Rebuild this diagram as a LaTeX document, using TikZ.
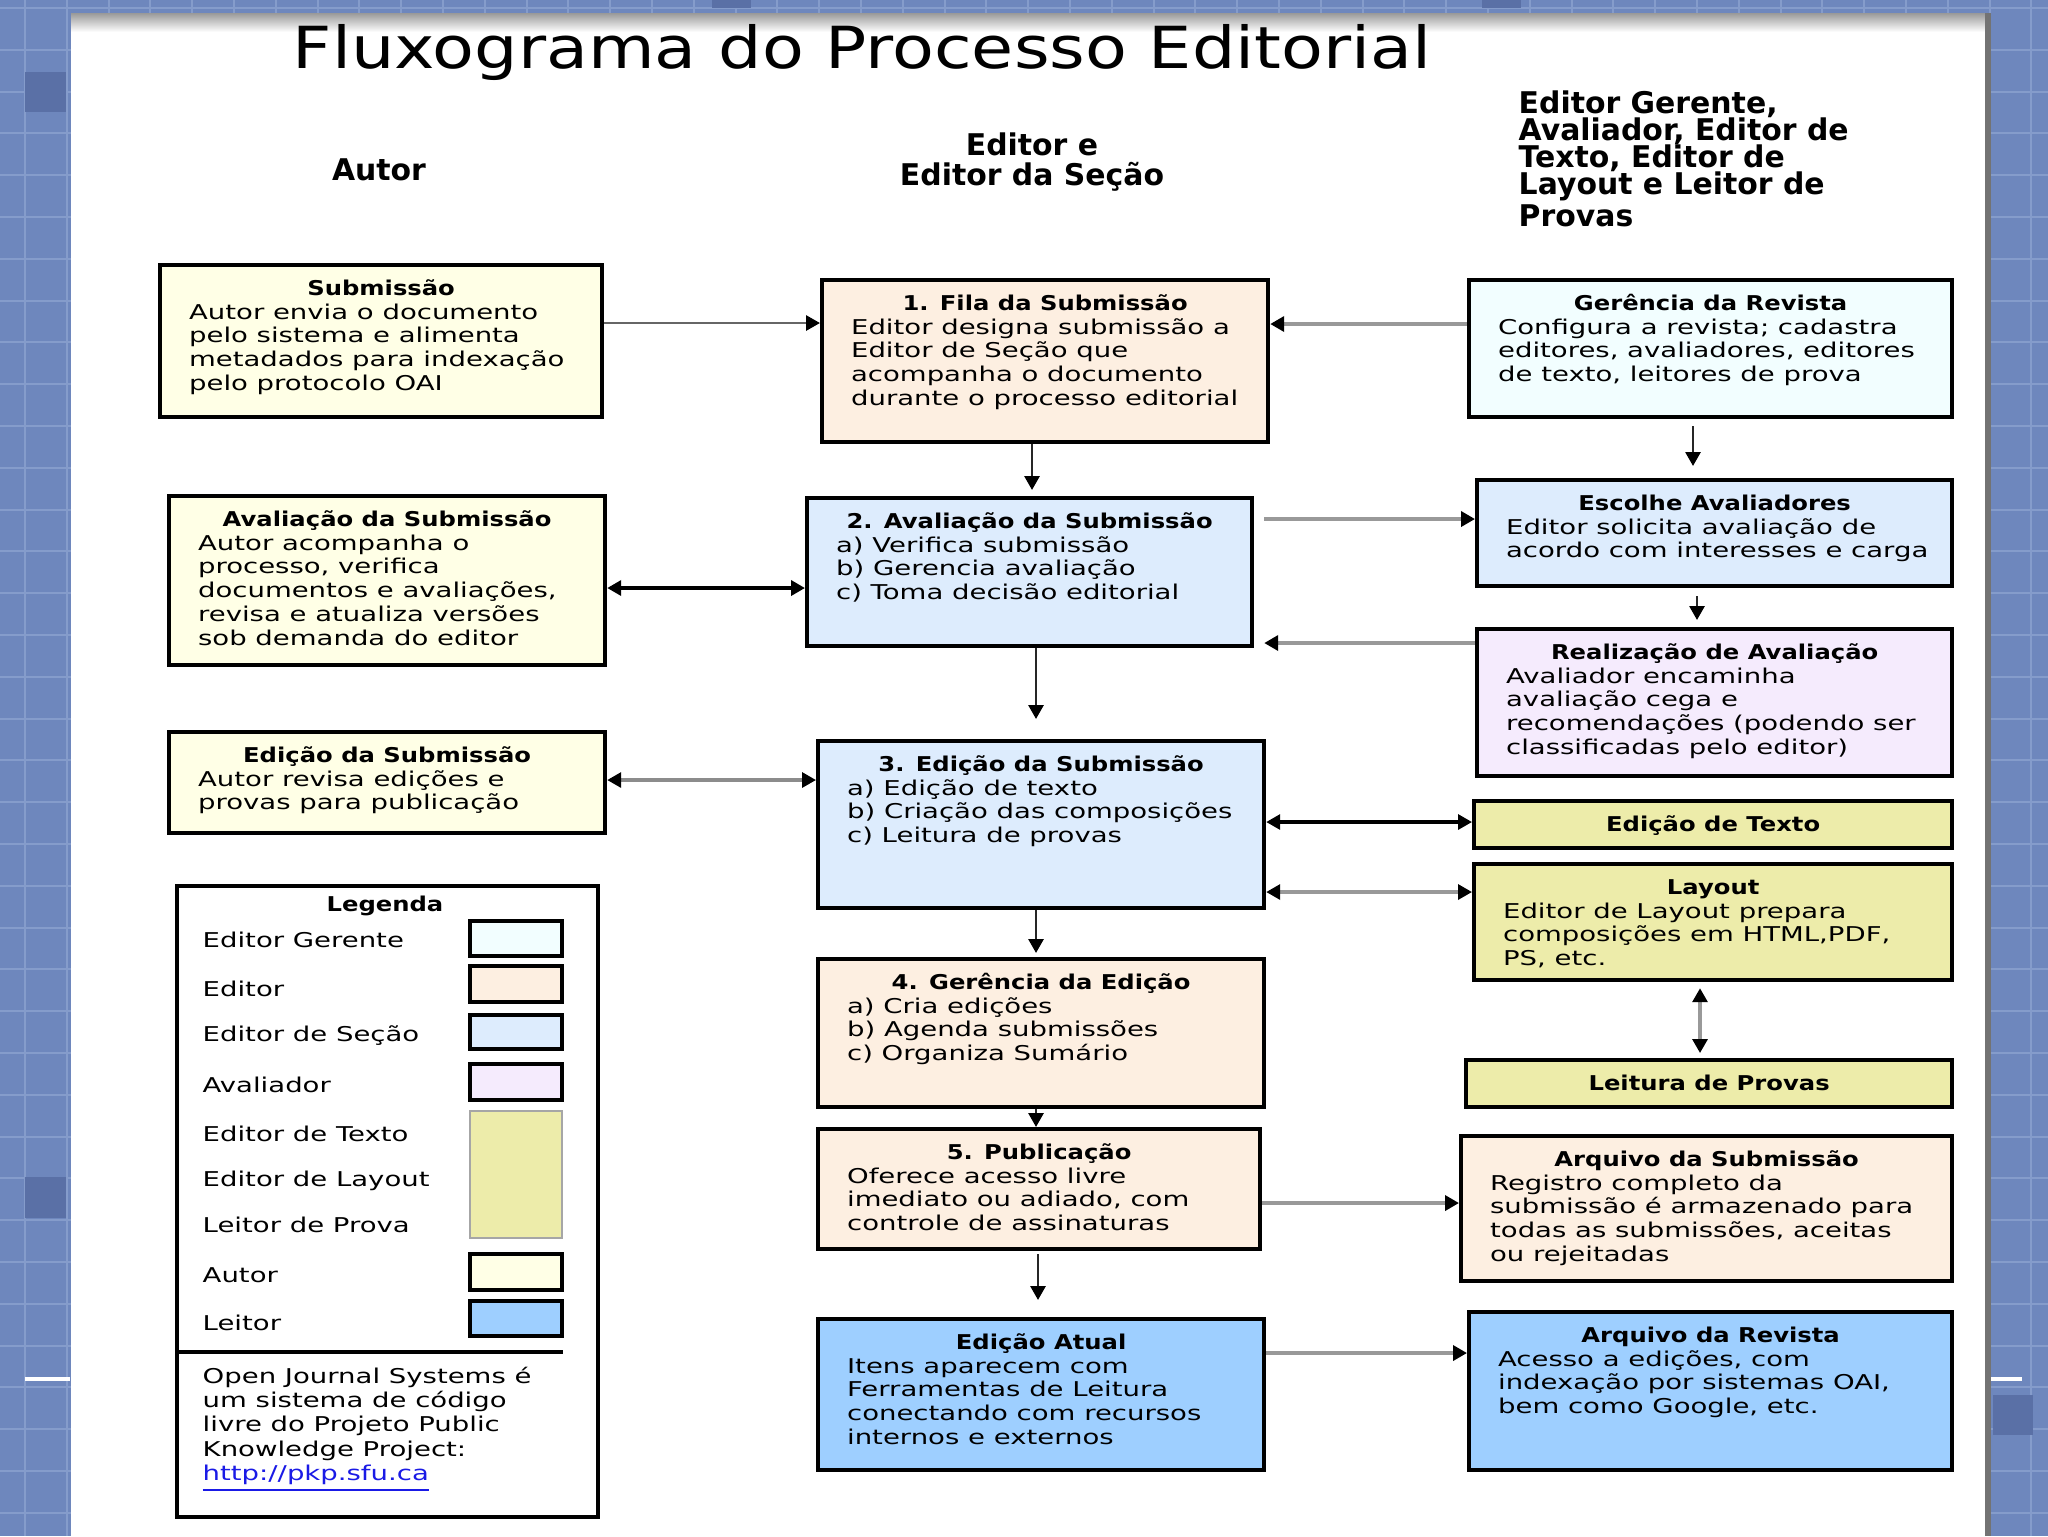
\documentclass[tikz,border=0pt]{standalone}
\usepackage{fontspec}
\usepackage{tikz}
\usetikzlibrary{arrows.meta}
\newfontfamily\bxfam[FakeStretch=1.35]{DejaVu Sans}
\newfontfamily\hdfam[FakeStretch=1.19]{DejaVu Sans}
\newfontfamily\hdrfam{DejaVu Sans}
\newfontfamily\titfam[FakeStretch=1.18]{DejaVu Sans}
\newcommand{\bxfont}{\bxfam\mdseries\fontsize{5.8pt}{6.8pt}\selectfont}
\newcommand{\hdfont}{\hdfam\bfseries\fontsize{5.8pt}{6.8pt}\selectfont}
\newcommand{\etapa}[4]{\parbox[t][\dimexpr#2-1.6mm\relax][t]{#1}{\centering\hdfont\rule{0pt}{2.2mm}#3\par
  \leftskip=2.9mm\rightskip=0pt plus 1fil\bxfont #4\par}}
\definecolor{cfundo}{HTML}{6E87BD}
\definecolor{cgrade}{HTML}{859CCB}
\definecolor{cescuro}{HTML}{5A70A6}
\definecolor{cautor}{HTML}{FFFFE6}
\definecolor{ceditor}{HTML}{FDEFE1}
\definecolor{cgerente}{HTML}{F2FEFF}
\definecolor{csecao}{HTML}{DDECFD}
\definecolor{cavaliador}{HTML}{F5EBFD}
\definecolor{ctexto}{HTML}{EDECAA}
\definecolor{cleitor}{HTML}{9ECFFF}
\definecolor{clink}{HTML}{1A1AE6}

\begin{document}
\begin{tikzpicture}[
    x=0.1mm, y=-0.1mm,
    >={Triangle[length=1.4mm, width=1.5mm, color=black]},
    caixa/.style={draw, line width=1.2pt, anchor=north west, inner xsep=0pt, inner ysep=0.8mm},
    seta/.style={->, line width=0.8pt, draw=black!85},
    setacinza/.style={->, line width=1pt, draw=black!40},
    setadupla/.style={<->, line width=0.9pt},
]
    \useasboundingbox (0,0) rectangle (2048,1536);

    % slide background
    \fill[cfundo] (0,0) rectangle (2048,1536);
    \foreach \i in {0,...,48}
        \draw[cgrade, line width=0.6pt] ({25+\i*41.8},0) -- ++(0,1536);
    \foreach \j in {0,...,36}
        \draw[cgrade, line width=0.6pt] (0,{8+\j*41.8}) -- ++(2048,0);
    \fill[cescuro] (25,72) rectangle (66,112);
    \fill[cescuro] (25,1177) rectangle (66,1218);
    \fill[cescuro] (1993,1395) rectangle (2033,1435);
    \fill[cescuro] (712,0) rectangle (751,8);
    \fill[cescuro] (1482,0) rectangle (1521,8);
    \draw[white, line width=1pt] (25,1379) -- (70,1379);
    \draw[white, line width=1pt] (1991,1379) -- (2022,1379);
    \fill[white] (71,13) rectangle (1985,1536);
    \shade[top color=black!40, bottom color=white] (71,13) rectangle (1985,32);
    \fill[black!55] (1985,13) rectangle (1991,1536);

    % title and column headers
    \node[font=\titfam\fontsize{16.5pt}{18pt}\selectfont, anchor=base] (titulo) at (862,68) {Fluxograma do Processo Editorial};
    \node[font=\hdrfam\bfseries\fontsize{8.5pt}{8pt}\selectfont] (hautor) at (379,170) {Autor};
    \node[font=\hdrfam\bfseries\fontsize{8.5pt}{8.6pt}\selectfont, align=center] (heditor) at (1032,162) {Editor e\\Editor da Seção};
    \node[font=\hdrfam\bfseries\fontsize{8.5pt}{7.7pt}\selectfont, align=left, anchor=north west, inner sep=0pt] (houtros) at (1518,90) {Editor Gerente,\\Avaliador, Editor de\\Texto, Editor de\\Layout e Leitor de\\Provas};

    % Autor
    \node[caixa, fill=cautor] (subm) at (158,263) {\etapa{44.2mm}{15.2mm}{Submissão}{Autor envia o documento\\pelo sistema e alimenta\\metadados para indexação\\pelo protocolo OAI}};
    \node[caixa, fill=cautor] (avalaut) at (167,494) {\etapa{43.6mm}{16.9mm}{Avaliação da Submissão}{Autor acompanha o\\processo, verifica\\documentos e avaliações,\\revisa e atualiza versões\\sob demanda do editor}};
    \node[caixa, fill=cautor] (edaut) at (167,730) {\etapa{43.6mm}{10.1mm}{Edição da Submissão}{Autor revisa edições e\\provas para publicação}};

    % Editor e Editor de Secao
    \node[caixa, fill=ceditor] (fila) at (820,278) {\etapa{44.6mm}{16.2mm}{1. Fila da Submissão}{Editor designa submissão a\\Editor de Seção que\\acompanha o documento\\durante o processo editorial}};
    \node[caixa, fill=csecao] (aval) at (805,496) {\etapa{44.5mm}{14.8mm}{2. Avaliação da Submissão}{a) Verifica submissão\\b) Gerencia avaliação\\c) Toma decisão editorial}};
    \node[caixa, fill=csecao] (edic) at (816,739) {\etapa{44.6mm}{16.7mm}{3. Edição da Submissão}{a) Edição de texto\\b) Criação das composições\\c) Leitura de provas}};
    \node[caixa, fill=ceditor] (gered) at (816,957) {\etapa{44.6mm}{14.8mm}{4. Gerência da Edição}{a) Cria edições\\b) Agenda submissões\\c) Organiza Sumário}};
    \node[caixa, fill=ceditor] (publ) at (816,1127) {\etapa{44.2mm}{12mm}{5. Publicação}{Oferece acesso livre\\imediato ou adiado, com\\controle de assinaturas}};
    \node[caixa, fill=cleitor] (atual) at (816,1317) {\etapa{44.6mm}{15.1mm}{Edição Atual}{Itens aparecem com\\Ferramentas de Leitura\\conectando com recursos\\internos e externos}};

    % demais papeis
    \node[caixa, fill=cgerente] (gerrev) at (1467,278) {\etapa{48.3mm}{13.7mm}{Gerência da Revista}{Configura a revista; cadastra\\editores, avaliadores, editores\\de texto, leitores de prova}};
    \node[caixa, fill=csecao] (escolha) at (1475,478) {\etapa{47.5mm}{10.6mm}{Escolhe Avaliadores}{Editor solicita avaliação de\\acordo com interesses e carga}};
    \node[caixa, fill=cavaliador] (realiz) at (1475,627) {\etapa{47.5mm}{14.7mm}{Realização de Avaliação}{Avaliador encaminha\\avaliação cega e\\recomendações (podendo ser\\classificadas pelo editor)}};
    \node[caixa, fill=ctexto] (edtexto) at (1472,799) {\etapa{47.8mm}{4.7mm}{Edição de Texto}{}};
    \node[caixa, fill=ctexto] (layout) at (1472,862) {\etapa{47.8mm}{11.6mm}{Layout}{Editor de Layout prepara\\composições em HTML,PDF,\\PS, etc.}};
    \node[caixa, fill=ctexto] (leitura) at (1464,1058) {\etapa{48.6mm}{4.7mm}{Leitura de Provas}{}};
    \node[caixa, fill=ceditor] (arqsub) at (1459,1134) {\etapa{49.1mm}{14.5mm}{Arquivo da Submissão}{Registro completo da\\submissão é armazenado para\\todas as submissões, aceitas\\ou rejeitadas}};
    \node[caixa, fill=cleitor] (arqrev) at (1467,1310) {\etapa{48.3mm}{15.8mm}{Arquivo da Revista}{Acesso a edições, com\\indexação por sistemas OAI,\\bem como Google, etc.}};

    % connectors
    \draw[seta, draw=black!60] (subm.east |- 0,323) -- (fila.west |- 0,323);
    \draw[setacinza] (gerrev.west |- 0,324) -- (fila.east |- 0,324);
    \draw[seta, shorten >=0.6mm] (fila.south -| 1032,0) -- (aval.north -| 1032,0);
    \draw[seta, shorten <=0.7mm, shorten >=1.2mm] (gerrev.south -| 1693,0) -- (escolha.north -| 1693,0);
    \draw[setacinza, shorten <=1mm] (aval.east |- 0,519) -- (escolha.west |- 0,519);
    \draw[seta, shorten <=0.8mm, shorten >=0.7mm] (escolha.south -| 1697,0) -- (realiz.north -| 1697,0);
    \draw[setacinza, shorten >=1mm] (realiz.west |- 0,643) -- (aval.east |- 0,643);
    \draw[setadupla, line width=1.2pt] (avalaut.east |- 0,588) -- (aval.west |- 0,588);
    \draw[seta, shorten >=2mm] (aval.south -| 1036,0) -- (edic.north -| 1036,0);
    \draw[setadupla, draw=black!45] (edaut.east |- 0,780) -- (edic.west |- 0,780);
    \draw[setadupla] (edic.east |- 0,822) -- (edtexto.west |- 0,822);
    \draw[setadupla, draw=black!40] (edic.east |- 0,892) -- (layout.west |- 0,892);
    \draw[setadupla, draw=black!40, shorten <=0.6mm, shorten >=0.5mm] (layout.south -| 1700,0) -- (leitura.north -| 1700,0);
    \draw[seta, shorten >=0.4mm] (edic.south -| 1036,0) -- (gered.north -| 1036,0);
    \draw[seta] (gered.south -| 1036,0) -- (publ.north -| 1036,0);
    \draw[seta, shorten <=0.3mm, shorten >=1.7mm] (publ.south -| 1038,0) -- (atual.north -| 1038,0);
    \draw[setacinza] (publ.east |- 0,1203) -- (arqsub.west |- 0,1203);
    \draw[setacinza] (atual.east |- 0,1353) -- (arqrev.west |- 0,1353);

    % Legenda
    \node[draw, line width=1.2pt, anchor=north west, inner sep=0pt, minimum width=42.1mm, minimum height=63.1mm] (legenda) at (175,884) {};
    \draw[line width=1.1pt] (legenda.west |- 0,1352) -- (563,1352);
    \node[font=\hdfont] (legtit) at (385,906) {Legenda};
    \node[font=\bxfont, anchor=west, inner sep=0pt] (lgerente) at (202,940) {Editor Gerente};
    \node[font=\bxfont, anchor=west, inner sep=0pt] (leditor) at (202,989) {Editor};
    \node[font=\bxfont, anchor=west, inner sep=0pt] (lsecao) at (202,1036) {Editor de Seção};
    \node[font=\bxfont, anchor=west, inner sep=0pt] (lavaliador) at (202,1085) {Avaliador};
    \node[font=\bxfont, anchor=west, inner sep=0pt] (ltexto) at (202,1134) {Editor de Texto};
    \node[font=\bxfont, anchor=west, inner sep=0pt] (llayout) at (202,1181) {Editor de Layout};
    \node[font=\bxfont, anchor=west, inner sep=0pt] (lprova) at (202,1225) {Leitor de Prova};
    \node[font=\bxfont, anchor=west, inner sep=0pt] (lautor) at (202,1275) {Autor};
    \node[font=\bxfont, anchor=west, inner sep=0pt] (lleitor) at (202,1323) {Leitor};
    \draw[line width=1.1pt, fill=cgerente] (470,921) rectangle (562,956);
    \draw[line width=1.1pt, fill=ceditor] (470,966) rectangle (562,1002);
    \draw[line width=1.1pt, fill=csecao] (470,1015) rectangle (562,1049);
    \draw[line width=1.1pt, fill=cavaliador] (470,1064) rectangle (562,1100);
    \draw[line width=0.6pt, draw=black!35, fill=ctexto] (470,1111) rectangle (562,1238);
    \draw[line width=1.1pt, fill=cautor] (470,1254) rectangle (562,1290);
    \draw[line width=1.1pt, fill=cleitor] (470,1301) rectangle (562,1336);
    \node[font=\bxfam\fontsize{5.8pt}{6.95pt}\selectfont, align=left, anchor=north west, inner sep=0pt] (rodape) at (202,1366) {Open Journal Systems é\\um sistema de código\\livre do Projeto Public\\Knowledge Project:\\\textcolor{clink}{\underline{http://pkp.sfu.ca}}};
\end{tikzpicture}
\end{document}
